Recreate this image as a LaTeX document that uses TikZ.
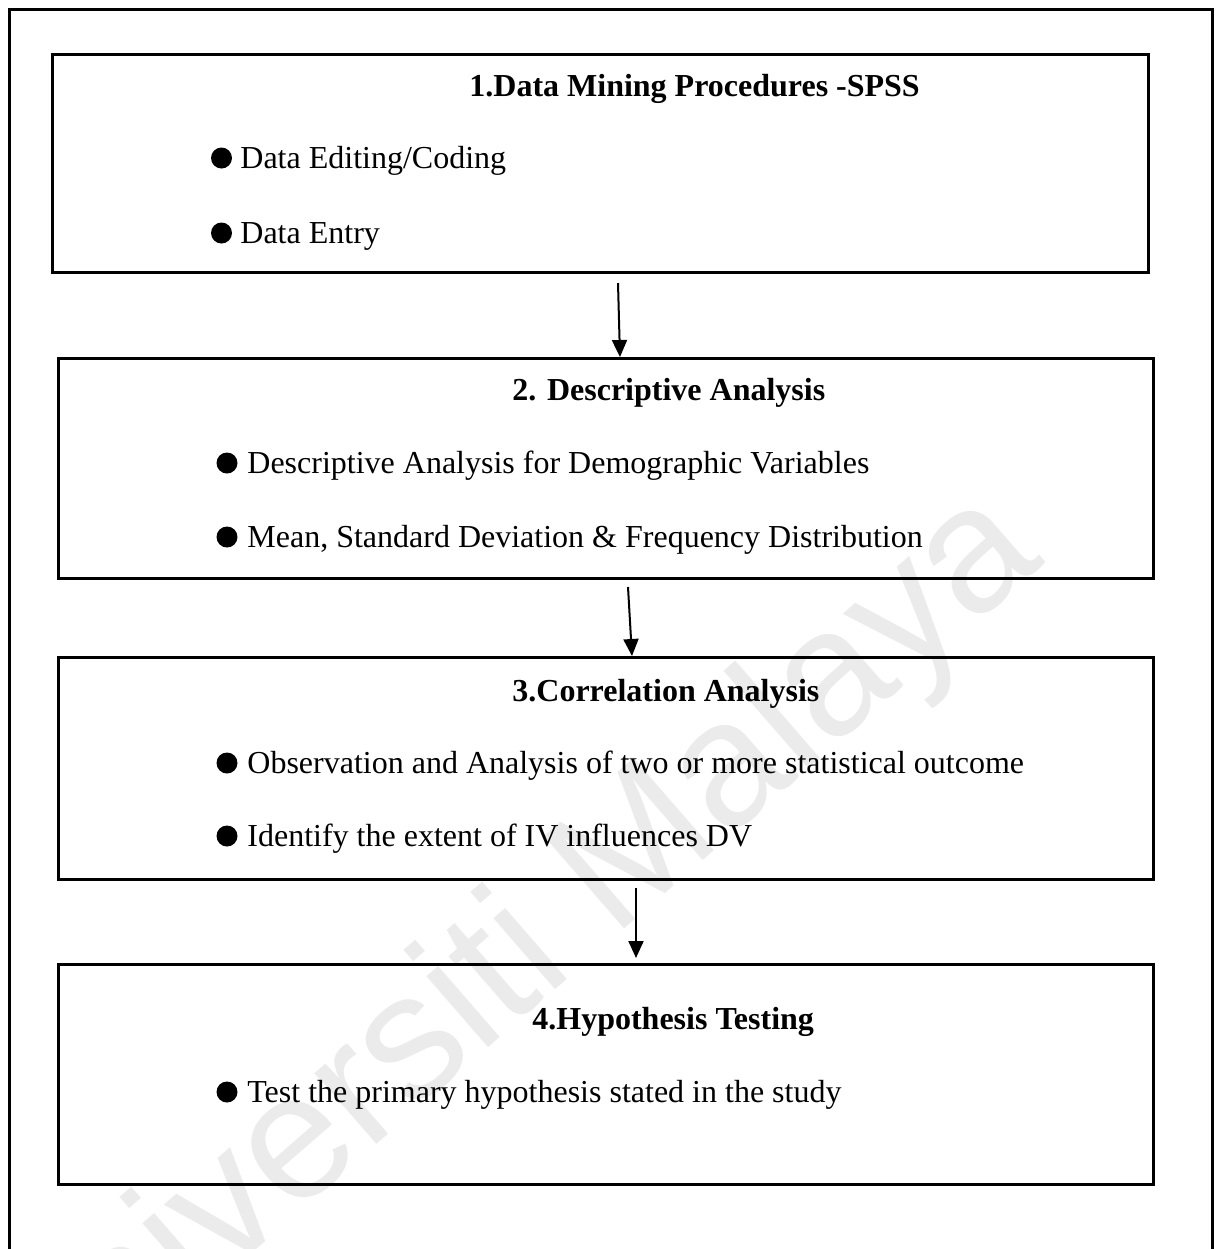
\documentclass[tikz,border=0pt]{standalone}
\usepackage{fontspec}
\setmainfont{Liberation Serif}
\newfontfamily\wmfont{Liberation Sans}
\usetikzlibrary{arrows.meta}
\definecolor{wmgray}{HTML}{EBEBEB}
\tikzset{
  stage/.style={draw, line width=1.5pt, rectangle, inner sep=0pt},
  ttl/.style={anchor=base west, inner sep=0pt, font=\fontsize{16pt}{19pt}\selectfont\bfseries},
  itm/.style={anchor=base west, inner sep=0pt, font=\fontsize{16pt}{19pt}\selectfont},
  blt/.style={circle, fill=black, inner sep=0pt, minimum size=10.5pt},
  flow/.style={line width=1pt, -{Triangle[width=7.5pt,length=8.5pt]}},
  frame/.style={line width=1.5pt}
}
\begin{document}
\begin{tikzpicture}[x=0.5pt,y=-0.5pt]
\useasboundingbox (0,0) rectangle (1218,1249);
% watermark
\begin{scope}
\clip (0,0) rectangle (1218,1249);
\node[wmgray, rotate=41, inner sep=0pt, font=\fontsize{89pt}{89pt}\selectfont\wmfont] (wm) at (505,972) {Universiti Malaya};
\end{scope}
% outer frame (open at bottom)
\coordinate (fbl) at (9,1249);
\coordinate (ftl) at (9,9);
\coordinate (ftr) at (1212,9);
\coordinate (fbr) at (1212,1249);
\draw[frame] (fbl) -- (ftl) -- (ftr) -- (fbr);
% boxes
\node[stage, minimum width=548pt, minimum height=109pt] (box1) at (600,163) {};
\node[stage, minimum width=547.5pt, minimum height=110pt] (box2) at (605.5,468) {};
\node[stage, minimum width=547.5pt, minimum height=111pt] (box3) at (605.5,768) {};
\node[stage, minimum width=547.5pt, minimum height=110pt] (box4) at (605.5,1074) {};
% box 1
\node[ttl] (t1) at (469,96) {1.Data Mining Procedures -SPSS};
\node[blt] (b1a) at (221.5,158) {};
\node[itm] (i1a) at (240,168) {Data Editing/Coding};
\node[blt] (b1b) at (221.5,233) {};
\node[itm] (i1b) at (240,243) {Data Entry};
% box 2
\node[ttl] (t2) at (512,400) {2. Descriptive Analysis};
\node[blt] (b2a) at (227,463) {};
\node[itm] (i2a) at (247,473) {Descriptive Analysis for Demographic Variables};
\node[blt] (b2b) at (227,537) {};
\node[itm] (i2b) at (247,547) {Mean, Standard Deviation \& Frequency Distribution};
% box 3
\node[ttl] (t3) at (512,701) {3.Correlation Analysis};
\node[blt] (b3a) at (227,763) {};
\node[itm] (i3a) at (247,773) {Observation and Analysis of two or more statistical outcome};
\node[blt] (b3b) at (227,836) {};
\node[itm] (i3b) at (247,846) {Identify the extent of IV influences DV};
% box 4
\node[ttl] (t4) at (532,1029) {4.Hypothesis Testing};
\node[blt] (b4a) at (227,1092) {};
\node[itm] (i4a) at (247,1102) {Test the primary hypothesis stated in the study};
% arrows
\coordinate (a1s) at (618,283);
\coordinate (a1e) at (620,357);
\coordinate (a2s) at (628,587);
\coordinate (a2e) at (632,656);
\coordinate (a3s) at (636,888);
\coordinate (a3e) at (636,958);
\draw[flow] (a1s) -- (a1e);
\draw[flow] (a2s) -- (a2e);
\draw[flow] (a3s) -- (a3e);
\end{tikzpicture}
\end{document}
